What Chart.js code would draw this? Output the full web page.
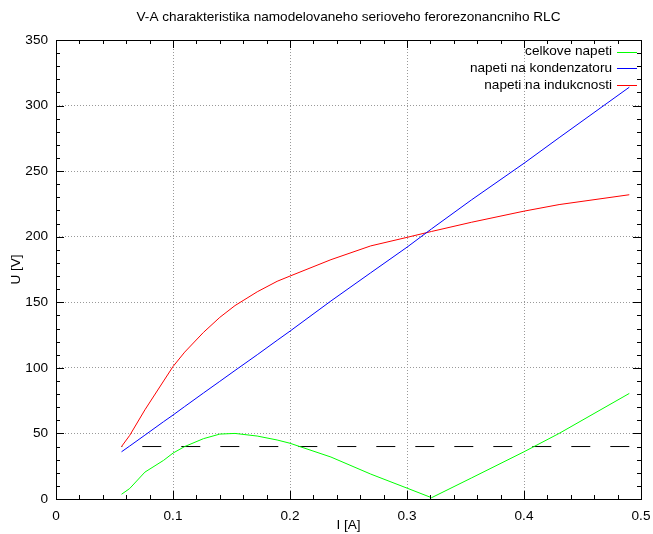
<!DOCTYPE html>
<html>
<head>
<meta charset="utf-8">
<script src="https://cdn.jsdelivr.net/npm/chart.js@4.4.1/dist/chart.umd.min.js"></script>
<style>
  html, body { margin: 0; padding: 0; background: #fff; }
  #wrap { width: 653px; height: 534px; }
</style>
</head>
<body>
<div id="wrap"><canvas id="va"></canvas></div>
<script>
const proud = [0.056, 0.063, 0.076, 0.092, 0.100, 0.110, 0.126, 0.140, 0.153, 0.172,
               0.189, 0.200, 0.235, 0.269, 0.300, 0.321, 0.355, 0.400, 0.430, 0.490];
const celkove = [3.6, 8, 20.5, 29.5, 35, 40, 46, 49.5, 50, 48,
                 45, 42.5, 32, 19, 8.3, 1, 16, 36, 50, 80.5];
const kondenzator = [36, 40.4, 48.7, 59, 64, 70.5, 80.8, 89.7, 98, 110,
                     121, 128, 151, 172.5, 192, 206, 228, 256, 275.5, 314];
const indukcnost = [40, 48.5, 68, 90, 101, 112, 127, 138.5, 147.5, 158,
                    166, 170, 182.5, 193, 199.5, 204, 211, 219.5, 224.5, 232];
// dashed reference level (drawn right to left)
const hladinaI = [0.49, 0.056];
const hladinaU = [40, 40];

const labels = ["celkove napeti", "napeti na kondenzatoru", "napeti na indukcnosti"];
const colors = ["#00ff00", "#0000ff", "#ff0000"];
const FONT = "Liberation Sans, Arial, sans-serif";
const FSIZE = 13.6;

function pts(xs, ys) {
  return xs.map((x, i) => ({ x: x, y: ys[i] }));
}

// title over plot area + gnuplot style legend + border with inward ticks
const gnuplotLook = {
  id: "gnuplotLook",
  afterDraw(chart) {
    const ctx = chart.ctx;
    const a = chart.chartArea;
    const xs = chart.scales.x, ys = chart.scales.y;
    ctx.save();
    ctx.fillStyle = "#000";
    ctx.font = FSIZE + "px " + FONT;
    ctx.textAlign = "center";
    ctx.textBaseline = "middle";
    ctx.fillText("V-A charakteristika namodelovaneho serioveho ferorezonancniho RLC", (a.left + a.right) / 2, 17);

    // legend
    ctx.textAlign = "right";
    labels.forEach((t, i) => {
      const y = 51.5 + i * 16.8;
      ctx.fillStyle = "#000";
      ctx.fillText(t, a.right - 29, y);
      ctx.strokeStyle = colors[i];
      ctx.lineWidth = 1;
      ctx.beginPath();
      ctx.moveTo(a.right - 24, Math.round(y) + 0.5);
      ctx.lineTo(a.right - 4, Math.round(y) + 0.5);
      ctx.stroke();
    });

    // border
    ctx.strokeStyle = "#000";
    ctx.lineWidth = 1;
    ctx.strokeRect(Math.round(a.left) + 0.5, Math.round(a.top) + 0.5,
                   Math.round(a.right - a.left), Math.round(a.bottom - a.top));
    ctx.beginPath();
    for (let v = 0; v <= 0.5001; v += 0.02) {
      const px = Math.round(xs.getPixelForValue(v)) + 0.5;
      const major = Math.abs(v * 10 - Math.round(v * 10)) < 1e-6;
      const len = major ? 8 : 4;
      ctx.moveTo(px, a.bottom); ctx.lineTo(px, a.bottom - len);
      ctx.moveTo(px, a.top); ctx.lineTo(px, a.top + len);
    }
    for (let v = 0; v <= 350; v += 10) {
      const py = Math.round(ys.getPixelForValue(v)) + 0.5;
      const len = v % 50 === 0 ? 8 : 4;
      ctx.moveTo(a.left, py); ctx.lineTo(a.left + len, py);
      ctx.moveTo(a.right, py); ctx.lineTo(a.right - len, py);
    }
    ctx.stroke();
    ctx.restore();
  }
};

new Chart(document.getElementById("va"), {
  type: "line",
  data: {
    datasets: [
      { label: labels[0], data: pts(proud, celkove), borderColor: colors[0] },
      { label: labels[1], data: pts(proud, kondenzator), borderColor: colors[1] },
      { label: labels[2], data: pts(proud, indukcnost), borderColor: colors[2] },
      { label: "hladina", data: pts(hladinaI, hladinaU), borderColor: "#000", borderDash: [19, 20] }
    ]
  },
  options: {
    responsive: true,
    maintainAspectRatio: false,
    animation: false,
    layout: { padding: { top: 40, right: 12, left: 0, bottom: 0 } },
    elements: {
      line: { borderWidth: 1, tension: 0, fill: false },
      point: { radius: 0, hoverRadius: 0 }
    },
    plugins: {
      legend: { display: false },
      title: { display: false },
      tooltip: { enabled: false }
    },
    scales: {
      x: {
        type: "linear",
        min: 0, max: 0.5,
        afterFit(s) { s.height = 35; s.paddingLeft = 0; s.paddingRight = 0; },
        ticks: {
          stepSize: 0.1,
          padding: 9,
          color: "#000",
          font: { family: FONT, size: FSIZE },
          maxRotation: 0,
          callback: v => String(Number(v.toFixed(1)))
        },
        grid: { color: "#999", drawTicks: false },
        border: { display: false, dash: [1, 2] },
        title: {
          display: true, text: "I [A]", color: "#000",
          font: { family: FONT, size: FSIZE }, padding: { top: 0, bottom: 1 }
        }
      },
      y: {
        min: 0, max: 350,
        afterFit(s) { s.width = 56; },
        ticks: {
          stepSize: 50,
          padding: 8,
          color: "#000",
          font: { family: FONT, size: FSIZE }
        },
        grid: { color: "#999", drawTicks: false },
        border: { display: false, dash: [1, 2] },
        title: {
          display: true, text: "U [V]", color: "#000",
          font: { family: FONT, size: FSIZE }, padding: { top: 8, bottom: 0 }
        }
      }
    }
  },
  plugins: [gnuplotLook]
});
</script>
</body>
</html>
